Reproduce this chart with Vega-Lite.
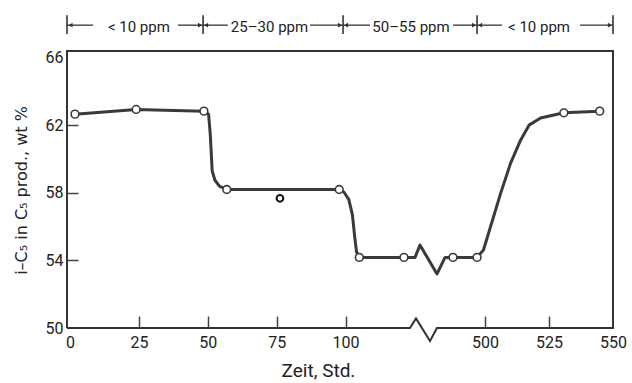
{
  "$schema": "https://vega.github.io/schema/vega-lite/v6.json",
  "width": 546,
  "height": 277,
  "autosize": {"type": "none"},
  "padding": {"left": 67, "top": 51, "right": 19, "bottom": 55},
  "background": "white",
  "config": {
    "view": {"stroke": null},
    "font": "Roboto, Liberation Sans, sans-serif"
  },
  "datasets": {
    "kurve": [
      {"t": 1.8, "v": 62.66, "m": 1},
      {"t": 24.0, "v": 62.94, "m": 1},
      {"t": 48.6, "v": 62.84, "m": 1},
      {"t": 50.3, "v": 62.65, "m": 0},
      {"t": 50.9, "v": 61.5, "m": 0},
      {"t": 51.6, "v": 59.3, "m": 0},
      {"t": 52.6, "v": 58.75, "m": 0},
      {"t": 54.2, "v": 58.4, "m": 0},
      {"t": 56.9, "v": 58.2, "m": 1},
      {"t": 97.7, "v": 58.2, "m": 1},
      {"t": 99.4, "v": 58.05, "m": 0},
      {"t": 101.2, "v": 57.6, "m": 0},
      {"t": 102.5, "v": 56.7, "m": 0},
      {"t": 103.4, "v": 55.3, "m": 0},
      {"t": 104.0, "v": 54.5, "m": 0},
      {"t": 105.0, "v": 54.18, "m": 1},
      {"t": 121.2, "v": 54.18, "m": 1},
      {"t": 189.7, "v": 54.18, "m": 0},
      {"t": 255.9, "v": 54.91, "m": 0},
      {"t": 481.25, "v": 53.2, "m": 0},
      {"t": 484.4, "v": 54.18, "m": 0},
      {"t": 487.5, "v": 54.18, "m": 1},
      {"t": 496.9, "v": 54.18, "m": 1},
      {"t": 499.4, "v": 54.62, "m": 0},
      {"t": 506.1, "v": 57.97, "m": 0},
      {"t": 510.0, "v": 59.76, "m": 0},
      {"t": 513.9, "v": 61.12, "m": 0},
      {"t": 517.2, "v": 62.01, "m": 0},
      {"t": 521.7, "v": 62.43, "m": 0},
      {"t": 530.8, "v": 62.74, "m": 1},
      {"t": 544.8, "v": 62.84, "m": 1}
    ],
    "einzel": [
      {"t": 76.2, "v": 57.68}
    ],
    "rahmen": [
      {"t": -1.09, "v": 50, "seq": 1},
      {"t": -1.09, "v": 66.4, "seq": 2},
      {"t": 550, "v": 66.4, "seq": 3},
      {"t": 550, "v": 50, "seq": 4},
      {"t": 481.25, "v": 50, "seq": 5},
      {"t": 388.5, "v": 49.23, "seq": 6},
      {"t": 202.9, "v": 50.57, "seq": 7},
      {"t": 123.4, "v": 50, "seq": 8},
      {"t": -1.09, "v": 50, "seq": 9}
    ],
    "bereiche": [
      {"t": 25.0, "v": 67.85, "label": "< 10 ppm"},
      {"t": 72.4, "v": 67.85, "label": "25–30 ppm"},
      {"t": 136.7, "v": 67.85, "label": "50–55 ppm"},
      {"t": 521.1, "v": 67.85, "label": "< 10 ppm"}
    ],
    "grenzen": [
      {"t": -1.09, "v1": 68.52, "v2": 67.4},
      {"t": 48.3, "v1": 68.52, "v2": 67.4},
      {"t": 99.1, "v1": 68.52, "v2": 67.4},
      {"t": 496.9, "v1": 68.52, "v2": 67.4},
      {"t": 550, "v1": 68.52, "v2": 67.4}
    ],
    "pfeillinien": [
      {"t1": -1.09, "t2": 8.4, "v": 67.93},
      {"t1": 39.2, "t2": 48.3, "v": 67.93},
      {"t1": 48.3, "t2": 57.3, "v": 67.93},
      {"t1": 87.1, "t2": 99.1, "v": 67.93},
      {"t1": 99.1, "t2": 108.9, "v": 67.93},
      {"t1": 487.5, "t2": 496.9, "v": 67.93},
      {"t1": 496.9, "t2": 506.6, "v": 67.93},
      {"t1": 537.1, "t2": 550, "v": 67.93}
    ],
    "pfeilspitzen": [
      {"t": 0.2, "v": 67.93, "dir": "links"},
      {"t": 47.2, "v": 67.93, "dir": "rechts"},
      {"t": 49.4, "v": 67.93, "dir": "links"},
      {"t": 98.0, "v": 67.93, "dir": "rechts"},
      {"t": 100.2, "v": 67.93, "dir": "links"},
      {"t": 495.7, "v": 67.93, "dir": "rechts"},
      {"t": 498.1, "v": 67.93, "dir": "links"},
      {"t": 548.8, "v": 67.93, "dir": "rechts"}
    ]
  },
  "layer": [
    {
      "data": {"name": "rahmen"},
      "mark": {"type": "line", "color": "#333333", "strokeWidth": 2, "clip": false},
      "encoding": {
        "x": {
          "field": "t", "type": "quantitative",
          "scale": {"domain": [0, 123.4, 481.25, 550], "range": [3, 343, 370, 546], "nice": false, "zero": false},
          "axis": {
            "values": [0, 25, 50, 75, 100, 500, 525, 550],
            "domain": false,
            "grid": false,
            "tickSize": -12,
            "tickWidth": 1.5,
            "tickColor": {"condition": {"test": "datum.value == 0 || datum.value == 550", "value": "transparent"}, "value": "#444444"},
            "labelPadding": 18,
            "labelFontSize": 16,
            "labelColor": "#222222",
            "labelFlush": false,
            "title": "Zeit, Std.",
            "titleFontSize": 19,
            "titleFontWeight": "normal",
            "titleColor": "#222222",
            "titleX": 251,
            "titleY": 52,
            "titleAlign": "center",
            "titleBaseline": "bottom"
          }
        },
        "y": {
          "field": "v", "type": "quantitative",
          "scale": {"domain": [50, 66.4], "nice": false, "zero": false},
          "axis": {
            "values": [50, 54, 58, 62, 66],
            "domain": false,
            "grid": false,
            "tickSize": -11,
            "tickWidth": 1.5,
            "tickColor": {"condition": {"test": "datum.value == 50 || datum.value == 66", "value": "transparent"}, "value": "#444444"},
            "labelPadding": 15,
            "labelFontSize": 16,
            "labelColor": "#222222",
            "labelFlush": false,
            "title": "i–C₅ in C₅ prod., wt %",
            "titleFont": "DejaVu Sans",
            "titleFontSize": 16,
            "titleFontWeight": "normal",
            "titleColor": "#222222",
            "titleX": -46,
            "titleY": 139,
            "titleAngle": -90,
            "titleAlign": "center",
            "titleBaseline": "middle"
          }
        },
        "order": {"field": "seq", "type": "quantitative"}
      }
    },
    {
      "data": {"name": "kurve"},
      "mark": {"type": "line", "color": "#3a3a3a", "strokeWidth": 3, "strokeJoin": "round", "strokeCap": "round"},
      "encoding": {
        "x": {"field": "t", "type": "quantitative"},
        "y": {"field": "v", "type": "quantitative"}
      }
    },
    {
      "data": {"name": "kurve"},
      "transform": [{"filter": "datum.m == 1"}],
      "mark": {"type": "point", "shape": "circle", "filled": true, "fill": "white", "stroke": "#3a3a3a", "strokeWidth": 1.6, "size": 60, "opacity": 1},
      "encoding": {
        "x": {"field": "t", "type": "quantitative"},
        "y": {"field": "v", "type": "quantitative"}
      }
    },
    {
      "data": {"name": "einzel"},
      "mark": {"type": "point", "shape": "circle", "filled": true, "fill": "white", "stroke": "#111111", "strokeWidth": 2, "size": 45, "opacity": 1},
      "encoding": {
        "x": {"field": "t", "type": "quantitative"},
        "y": {"field": "v", "type": "quantitative"}
      }
    },
    {
      "data": {"name": "grenzen"},
      "mark": {"type": "rule", "color": "#333333", "strokeWidth": 1.6},
      "encoding": {
        "x": {"field": "t", "type": "quantitative"},
        "y": {"field": "v1", "type": "quantitative"},
        "y2": {"field": "v2"}
      }
    },
    {
      "data": {"name": "pfeillinien"},
      "mark": {"type": "rule", "color": "#333333", "strokeWidth": 1.3},
      "encoding": {
        "x": {"field": "t1", "type": "quantitative"},
        "x2": {"field": "t2"},
        "y": {"field": "v", "type": "quantitative"}
      }
    },
    {
      "data": {"name": "pfeilspitzen"},
      "mark": {"type": "point", "filled": true, "color": "#333333", "size": 22, "opacity": 1},
      "encoding": {
        "x": {"field": "t", "type": "quantitative"},
        "y": {"field": "v", "type": "quantitative"},
        "shape": {"field": "dir", "type": "nominal", "scale": {"domain": ["links", "rechts"], "range": ["triangle-left", "triangle-right"]}, "legend": null}
      }
    },
    {
      "data": {"name": "bereiche"},
      "mark": {"type": "text", "fontSize": 15, "color": "#222222", "baseline": "middle", "align": "center"},
      "encoding": {
        "x": {"field": "t", "type": "quantitative"},
        "y": {"field": "v", "type": "quantitative"},
        "text": {"field": "label"}
      }
    }
  ]
}
